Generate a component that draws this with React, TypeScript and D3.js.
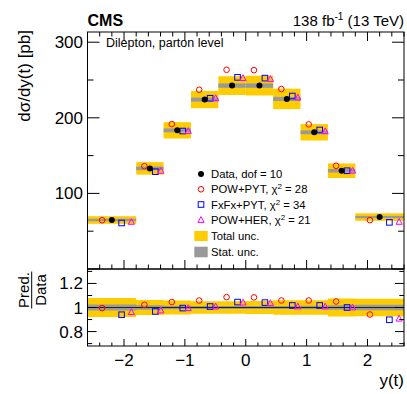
import React from 'react';
import * as d3 from 'd3';

// bin edges of y(t)
const binEdges = [-2.6, -1.8, -1.35, -0.9, -0.45, 0, 0.45, 0.9, 1.35, 1.8, 2.6];

// cross sections in pb
const dataXsec = [64.8, 133.1, 183.4, 224.1, 242.6, 242.6, 225.0, 180.8, 130.0, 68.7];
const powPyt = [64.5, 136.0, 191.7, 237.1, 263.5, 263.0, 238.1, 191.3, 136.5, 64.7];
const fxfxPyt = [60.9, 128.7, 182.5, 225.9, 253.5, 252.5, 228.8, 183.9, 130.0, 61.7];
const powHer = [62.3, 129.8, 182.5, 225.9, 252.5, 251.3, 226.8, 182.2, 130.0, 62.3];

// relative uncertainties (%)
const totalUnc = [7.8, 6.2, 5.9, 5.1, 5.1, 5.4, 6.0, 6.0, 7.4, 7.2];
const statUnc = [2.5, 1.8, 1.4, 1.2, 1.2, 1.2, 1.2, 1.4, 1.8, 2.2];

const yTicks = [100, 200, 300];
const ratioTicks = [0.8, 1, 1.2];
const xTicks = [-2, -1, 0, 1, 2];

const font = "'Liberation Sans', Arial, Helvetica, sans-serif";
const YELLOW = '#ffcc00';
const GREY = '#999999';

const left = 87.5;
const right = 404;
const topY = 32;
const midY = 269;
const botY = 346;

const Circle = ({ cx, cy }: { cx: number; cy: number }) => (
  <circle cx={cx} cy={cy} r={2.8} fill="none" stroke="#ff0000" strokeWidth={1} />
);
const Square = ({ cx, cy }: { cx: number; cy: number }) => (
  <rect x={cx - 2.8} y={cy - 2.8} width={5.6} height={5.6} fill="none" stroke="#0000ff" strokeWidth={1} />
);
const Triangle = ({ cx, cy }: { cx: number; cy: number }) => (
  <path
    d={`M${cx},${cy - 3.4}L${cx + 3.1},${cy + 2.4}L${cx - 3.1},${cy + 2.4}Z`}
    fill="none"
    stroke="#ff00ff"
    strokeWidth={1}
  />
);

export default function App() {
  const x = d3.scaleLinear().domain([-2.6, 2.6]).range([left, right]);
  const y = d3.scaleLinear().domain([0, 313.5]).range([midY, topY]);
  const yr = d3.scaleLinear().domain([0.68, 1.32]).range([botY, midY]);

  const bins = dataXsec.map((v, i) => {
    const lo = binEdges[i];
    const hi = binEdges[i + 1];
    const w = hi - lo;
    const c = (lo + hi) / 2;
    return { i, lo, hi, w, c, v };
  });

  const minorX = d3.range(-2.6, 2.61, 0.2).map((v) => Math.round(v * 10) / 10);
  const isMajor = (v: number) => Math.abs(v - Math.round(v)) < 1e-6;
  const minorY = d3.range(0, 313, 50);
  const minorR = d3.range(0.7, 1.31, 0.1).map((v) => Math.round(v * 10) / 10);

  const ratioArea = (rel: number[]) => {
    const pts: [number, number, number][] = [];
    bins.forEach((b) => {
      pts.push([b.lo, 1 - rel[b.i] / 100, 1 + rel[b.i] / 100]);
      pts.push([b.hi, 1 - rel[b.i] / 100, 1 + rel[b.i] / 100]);
    });
    return d3
      .area<[number, number, number]>()
      .x((d) => x(d[0]))
      .y0((d) => yr(d[1]))
      .y1((d) => yr(d[2]))(pts) as string;
  };

  return (
    <svg
      width={407}
      height={394}
      style={{ position: 'absolute', left: 0, top: 0, fontFamily: font }}
    >
      <rect width={407} height={394} fill="#fff" />

      {/* header */}
      <text x={left} y={26} fontSize={16} fontWeight="bold">CMS</text>
      <text x={right} y={26} fontSize={15} textAnchor="end">
        138 fb<tspan dy={-6} fontSize={10}>-1</tspan>
        <tspan dy={6}> (13 TeV)</tspan>
      </text>

      {/* top panel: uncertainties */}
      {bins.map((b) => (
        <g key={'u' + b.i}>
          <rect
            x={x(b.lo)}
            width={x(b.hi) - x(b.lo)}
            y={y(b.v * (1 + totalUnc[b.i] / 100))}
            height={y(b.v * (1 - totalUnc[b.i] / 100)) - y(b.v * (1 + totalUnc[b.i] / 100))}
            fill={YELLOW}
          />
          <rect
            x={x(b.lo)}
            width={x(b.hi) - x(b.lo)}
            y={y(b.v * (1 + statUnc[b.i] / 100))}
            height={Math.max(1.5, y(b.v * (1 - statUnc[b.i] / 100)) - y(b.v * (1 + statUnc[b.i] / 100)))}
            fill={GREY}
          />
        </g>
      ))}

      {/* top panel: points */}
      {bins.map((b) => (
        <g key={'p' + b.i}>
          <Circle cx={x(b.c - 0.2 * b.w)} cy={y(powPyt[b.i])} />
          <Square cx={x(b.c + 0.2 * b.w)} cy={y(fxfxPyt[b.i])} />
          <Triangle cx={x(b.c + 0.4 * b.w)} cy={y(powHer[b.i])} />
          <circle cx={x(b.c)} cy={y(b.v)} r={3} fill="#000" />
        </g>
      ))}

      {/* top panel frame and ticks */}
      <rect x={left} y={topY} width={right - left} height={midY - topY} fill="none" stroke="#000" />
      {minorX.map((v) => (
        <g key={'tx' + v} stroke="#000">
          <line x1={x(v)} x2={x(v)} y1={midY} y2={midY - (isMajor(v) ? 9 : 4.5)} />
          <line x1={x(v)} x2={x(v)} y1={topY} y2={topY + (isMajor(v) ? 9 : 4.5)} />
        </g>
      ))}
      {minorY.map((v) => (
        <g key={'ty' + v} stroke="#000">
          <line x1={left} x2={left + (v % 100 === 0 ? 12 : 6)} y1={y(v)} y2={y(v)} />
          <line x1={right} x2={right - (v % 100 === 0 ? 12 : 6)} y1={y(v)} y2={y(v)} />
        </g>
      ))}
      {yTicks.map((v) => (
        <text key={'yl' + v} x={83} y={y(v) + 6} fontSize={17} textAnchor="end">
          {v}
        </text>
      ))}
      <text transform="translate(30,30) rotate(-90)" fontSize={17} textAnchor="end">
        dσ/dy(t) [pb]
      </text>
      <text x={106} y={47} fontSize={12.5}>Dilepton, parton level</text>

      {/* legend */}
      <g fontSize={11.3}>
        <circle cx={201} cy={174} r={3} fill="#000" />
        <text x={211} y={178}>Data, dof = 10</text>
        <Circle cx={201} cy={189.3} />
        <text x={211} y={193.3}>
          POW+PYT, χ<tspan dy={-4} fontSize={8}>2</tspan><tspan dy={4}> = 28</tspan>
        </text>
        <Square cx={201} cy={204.5} />
        <text x={211} y={208.5}>
          FxFx+PYT, χ<tspan dy={-4} fontSize={8}>2</tspan><tspan dy={4}> = 34</tspan>
        </text>
        <Triangle cx={201} cy={220} />
        <text x={211} y={224}>
          POW+HER, χ<tspan dy={-4} fontSize={8}>2</tspan><tspan dy={4}> = 21</tspan>
        </text>
        <rect x={194.3} y={231} width={13.4} height={10} fill={YELLOW} />
        <text x={211} y={240}>Total unc.</text>
        <rect x={194.3} y={246.7} width={13.4} height={10.6} fill={GREY} />
        <text x={211} y={256}>Stat. unc.</text>
      </g>

      {/* ratio panel */}
      <path d={ratioArea(totalUnc)} fill={YELLOW} />
      <path d={ratioArea(statUnc)} fill={GREY} />
      <line x1={left} x2={right} y1={yr(1)} y2={yr(1)} stroke="#222" strokeWidth={1.2} />
      {bins.map((b) => (
        <g key={'r' + b.i}>
          <Circle cx={x(b.c - 0.2 * b.w)} cy={yr(powPyt[b.i] / b.v)} />
          <Square cx={x(b.c + 0.2 * b.w)} cy={yr(fxfxPyt[b.i] / b.v)} />
          <Triangle cx={x(b.c + 0.4 * b.w)} cy={yr(powHer[b.i] / b.v)} />
        </g>
      ))}
      <rect x={left} y={midY} width={right - left} height={botY - midY} fill="none" stroke="#000" />
      {minorX.map((v) => (
        <line
          key={'rx' + v}
          stroke="#000"
          x1={x(v)}
          x2={x(v)}
          y1={botY}
          y2={botY - (isMajor(v) ? 7 : 3.5)}
        />
      ))}
      {minorR.map((v) => (
        <g key={'ry' + v} stroke="#000">
          <line x1={left} x2={left + (Math.round(v * 10) % 2 === 0 ? 9 : 4.7)} y1={yr(v)} y2={yr(v)} />
          <line x1={right} x2={right - (Math.round(v * 10) % 2 === 0 ? 9 : 4.7)} y1={yr(v)} y2={yr(v)} />
        </g>
      ))}
      {ratioTicks.map((v) => (
        <text key={'rl' + v} x={83} y={yr(v) + 6} fontSize={17} textAnchor="end">
          {v}
        </text>
      ))}
      {xTicks.map((v) => (
        <text key={'xl' + v} x={x(v)} y={366} fontSize={17} textAnchor="middle">
          {v < 0 ? '\u2212' + Math.abs(v) : v}
        </text>
      ))}
      <text x={right} y={386} fontSize={17} textAnchor="end">y(t)</text>

      {/* ratio y title as fraction */}
      <g transform="translate(0,290) rotate(-90)" fontSize={15} textAnchor="middle">
        <text x={0} y={29}>Pred.</text>
        <line x1={-18.5} x2={18.5} y1={31.7} y2={31.7} stroke="#000" strokeWidth={1} />
        <text x={0} y={45.5}>Data</text>
      </g>
    </svg>
  );
}
